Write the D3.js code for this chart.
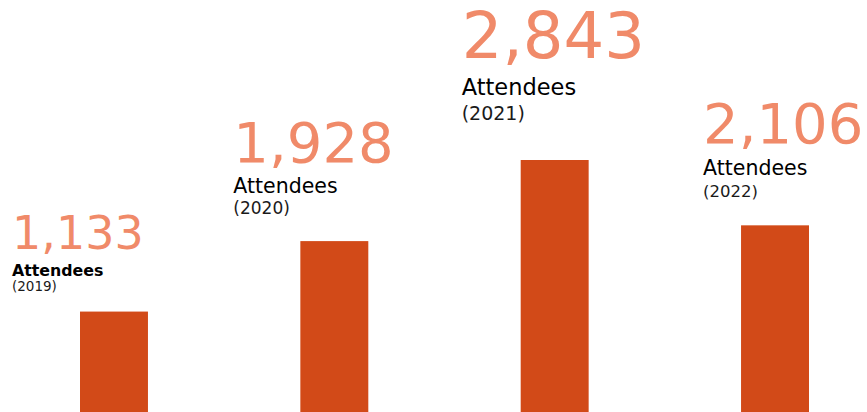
<!DOCTYPE html>
<html>
<head>
<meta charset="utf-8">
<script src="https://cdn.jsdelivr.net/npm/d3@7"></script>
<style>
  body { margin: 0; background: #fff; overflow: hidden; }
  svg { display: block; font-family: "DejaVu Sans", Verdana, sans-serif; }
</style>
</head>
<body>
<script>
const years = ["2019", "2020", "2021", "2022"];
const attendees = [1133, 1928, 2843, 2106];
const unitLabel = "Attendees";

// each callout is placed a little differently in the original infographic
const callouts = [
    { dx: -68, numY: 249, numSize: 46, wordY: 276, wordSize: 15.8, wordWeight: "bold", yearY: 291, yearSize: 13.5 },
    { dx: -67, numY: 162, numSize: 56, wordY: 193, wordSize: 20.5, wordWeight: "normal", yearY: 214, yearSize: 17 },
    { dx: -59, numY: 58, numSize: 64, wordY: 95, wordSize: 22.5, wordWeight: "normal", yearY: 120, yearSize: 19 },
    { dx: -38, numY: 143, numSize: 56, wordY: 175, wordSize: 20.5, wordWeight: "normal", yearY: 197, yearSize: 16.5 }
];

const width = 867;
const height = 412;

const svg = d3.select("body")
    .append("svg")
    .attr("width", width)
    .attr("height", height);

const x = d3.scaleBand()
    .domain(years)
    .range([80, 809])
    .paddingInner(0.6916)
    .paddingOuter(0);

const y = d3.scaleLinear()
    .domain([0, d3.max(attendees)])
    .range([height, 160]);

const data = years.map((yr, i) => ({ year: yr, value: attendees[i], c: callouts[i] }));

svg.selectAll(".bar")
    .data(data)
    .enter()
    .append("rect")
    .attr("class", "bar")
    .attr("x", d => x(d.year))
    .attr("y", d => y(d.value))
    .attr("width", x.bandwidth())
    .attr("height", d => height - y(d.value))
    .attr("fill", "#d24a18");

const labels = svg.selectAll(".label")
    .data(data)
    .enter()
    .append("g")
    .attr("class", "label")
    .attr("transform", d => `translate(${x(d.year) + d.c.dx},0)`);

labels.append("text")
    .attr("y", d => d.c.numY)
    .style("font-size", d => d.c.numSize + "px")
    .attr("fill", "#f08a69")
    .text(d => d3.format(",")(d.value));

labels.append("text")
    .attr("y", d => d.c.wordY)
    .style("font-size", d => d.c.wordSize + "px")
    .style("font-weight", d => d.c.wordWeight)
    .attr("fill", "#000")
    .text(unitLabel);

labels.append("text")
    .attr("y", d => d.c.yearY)
    .style("font-size", d => d.c.yearSize + "px")
    .attr("fill", "#1a1a1a")
    .text(d => `(${d.year})`);
</script>
</body>
</html>
